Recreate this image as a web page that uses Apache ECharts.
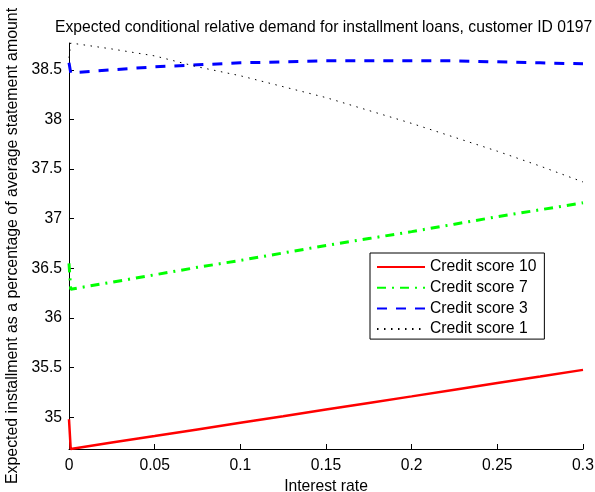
<!DOCTYPE html>
<html>
<head>
<meta charset="utf-8">
<script src="https://cdn.jsdelivr.net/npm/echarts@6/dist/echarts.min.js"></script>
<style>
html,body{margin:0;padding:0;background:#fff;}
#chart{width:595px;height:492px;}
</style>
</head>
<body>
<div id="chart"></div>
<script>
var titleText = 'Expected conditional relative demand for installment loans, customer ID 0197';
var xAxisName = 'Interest rate';
var yAxisName = 'Expected installment as a percentage of average statement amount';
var seriesNames = ['Credit score 10', 'Credit score 7', 'Credit score 3', 'Credit score 1'];
var rates = [0, 0.001, 0.025, 0.05, 0.075, 0.1, 0.125, 0.15, 0.175, 0.2, 0.225, 0.25, 0.275, 0.3];
var score10 = [34.98, 34.68, 34.746, 34.81, 34.877, 34.944, 35.01, 35.077, 35.144, 35.21, 35.277, 35.344, 35.41, 35.477];
var score7  = [36.55, 36.29, 36.36, 36.435, 36.51, 36.58, 36.655, 36.73, 36.80, 36.87, 36.945, 37.02, 37.09, 37.16];
var score3  = [38.57, 38.47, 38.50, 38.53, 38.55, 38.57, 38.58, 38.59, 38.59, 38.59, 38.59, 38.58, 38.57, 38.56];
var score1  = [38.62, 38.77, 38.71, 38.64, 38.53, 38.44, 38.33, 38.22, 38.09, 37.96, 37.82, 37.68, 37.53, 37.37];
var yTicks = [35, 35.5, 36, 36.5, 37, 37.5, 38, 38.5];

function pairs(ys){ return rates.map(function(x,i){ return [x, ys[i]]; }); }

var FONT = 'Liberation Sans, Arial, Helvetica, sans-serif';
var FS = 15.7;
var chart = echarts.init(document.getElementById('chart'), null, {renderer:'canvas'});
var lineStyles = [
  {color:'#ff0000', width:2.5, type:'solid'},
  {color:'#00ff00', width:3, type:[9,6,2,6]},
  {color:'#0000ff', width:3, type:[10,9]},
  {color:'#000000', width:1, type:[1.5,5.5]}
];
var data = [score10, score7, score3, score1];
chart.setOption({
  animation:false,
  backgroundColor:'#ffffff',
  textStyle:{fontFamily:FONT},
  title:{
    text:titleText, left:55, top:20, padding:0,
    textStyle:{fontFamily:FONT, fontSize:FS, fontWeight:'normal', color:'#000'}
  },
  grid:{left:69, right:12, top:43, bottom:43, containLabel:false, outerBoundsMode:'none'},
  legend:{
    left:370, top:253, orient:'vertical',
    itemWidth:48, itemHeight:14, itemGap:4.7,
    borderColor:'#000', borderWidth:1, borderRadius:0,
    padding:[6,8,2,6],
    backgroundColor:'#fff',
    itemStyle:{opacity:0},
    textStyle:{fontFamily:FONT, fontSize:FS, color:'#000'},
    data:seriesNames
  },
  xAxis:{
    type:'value', min:0, max:0.3, interval:0.05,
    name:xAxisName, nameLocation:'middle', nameGap:26,
    nameTextStyle:{fontFamily:FONT, fontSize:FS, color:'#000'},
    axisLine:{show:true, onZero:false, lineStyle:{color:'#000', width:1}},
    axisTick:{show:true, inside:true, length:5, lineStyle:{color:'#000'}},
    axisLabel:{color:'#000', fontSize:FS, fontFamily:FONT, margin:9, showMaxLabel:true, showMinLabel:true},
    splitLine:{show:false}
  },
  yAxis:{
    type:'value', min:34.68, max:38.77,
    name:yAxisName, nameLocation:'middle', nameGap:44,
    nameTextStyle:{fontFamily:FONT, fontSize:15.9, color:'#000'},
    axisLine:{show:true, onZero:false, lineStyle:{color:'#000', width:1}},
    axisTick:{show:true, inside:true, length:5, lineStyle:{color:'#000'}, customValues:yTicks},
    axisLabel:{color:'#000', fontSize:FS, fontFamily:FONT, margin:7, customValues:yTicks},
    splitLine:{show:false}
  },
  series:data.map(function(d,i){
    return {
      name:seriesNames[i], type:'line', data:pairs(d),
      symbol:'none', showSymbol:false, clip:false,
      lineStyle:lineStyles[i], itemStyle:{color:lineStyles[i].color},
      emphasis:{disabled:true}
    };
  })
});
</script>
</body>
</html>
